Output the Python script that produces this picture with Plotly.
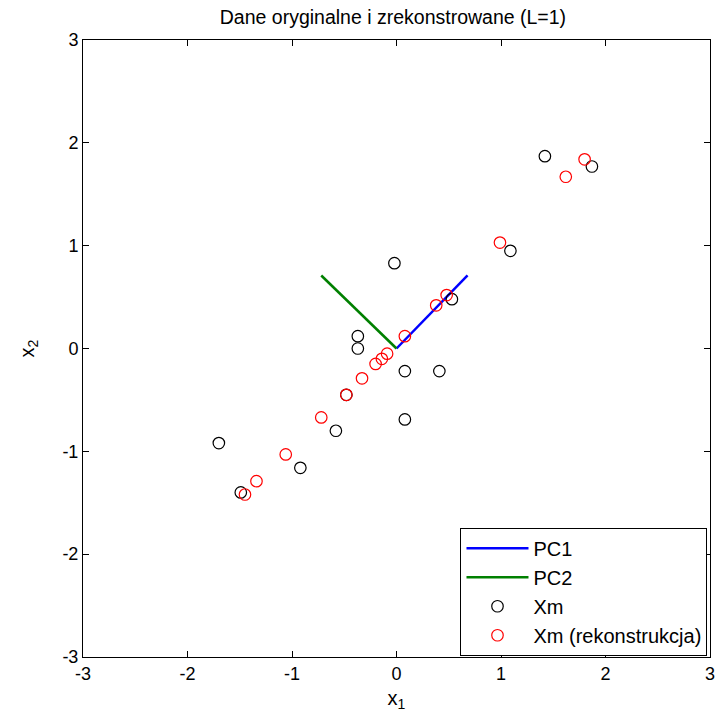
import plotly.graph_objects as go

# Original (centered) data
xm_x1 = [1.42, 1.87, 1.09, -0.02, 0.53, -0.37, -0.37, 0.08, 0.41, -0.48, 0.08, -0.58, -1.70, -0.92, -1.49]
xm_x2 = [1.87, 1.77, 0.95, 0.83, 0.48, 0.12, 0.00, -0.22, -0.22, -0.45, -0.69, -0.80, -0.92, -1.16, -1.40]

# Reconstruction (L=1)
rec_x1 = [1.80, 1.62, 0.99, 0.48, 0.38, 0.08, -0.09, -0.14, -0.20, -0.33, -0.48, -0.72, -1.06, -1.34, -1.45]
rec_x2 = [1.84, 1.67, 1.03, 0.52, 0.42, 0.12, -0.05, -0.10, -0.15, -0.29, -0.45, -0.67, -1.03, -1.29, -1.42]

# Principal component vectors
pc1_x = [0, 0.68]
pc1_y = [0, 0.71]
pc2_x = [0, -0.72]
pc2_y = [0, 0.71]

tick_vals = [-3, -2, -1, 0, 1, 2, 3]
tick_text = ["-3", "-2", "-1", "0", "1", "2", "3"]

FONT = "Liberation Sans, Arial, sans-serif"

fig = go.Figure()
fig.add_trace(go.Scatter(x=pc1_x, y=pc1_y, mode="lines", name="PC1",
                         line=dict(color="#0000ff", width=2.5)))
fig.add_trace(go.Scatter(x=pc2_x, y=pc2_y, mode="lines", name="PC2",
                         line=dict(color="#008000", width=2.5)))
fig.add_trace(go.Scatter(x=xm_x1, y=xm_x2, mode="markers", name="Xm",
                         marker=dict(symbol="circle-open", size=11.5, color="black",
                                     line=dict(width=1.2, color="black"))))
fig.add_trace(go.Scatter(x=rec_x1, y=rec_x2, mode="markers", name="Xm (rekonstrukcja)",
                         marker=dict(symbol="circle-open", size=11.5, color="red",
                                     line=dict(width=1.2, color="red"))))

axis_common = dict(range=[-3, 3], tickvals=tick_vals, ticktext=tick_text,
                   ticks="inside", ticklen=6,
                   tickcolor="black", showline=True, linecolor="black", linewidth=1,
                   mirror="ticks", showgrid=False, zeroline=False, automargin=False,
                   tickfont=dict(size=18, color="black", family=FONT))

fig.update_layout(
    width=721, height=714,
    margin=dict(l=83, r=11, t=40, b=57),
    paper_bgcolor="white", plot_bgcolor="white",
    font=dict(family=FONT, color="black"),
    title=dict(text="Dane oryginalne i zrekonstrowane (L=1)", x=0.545, xanchor="center",
               y=0.976, yanchor="middle", font=dict(size=19.5, family=FONT, color="black")),
    xaxis=dict(**axis_common, title=dict(text="x<sub>1</sub>", font=dict(size=20), standoff=8)),
    yaxis=dict(**axis_common, title=dict(text="x<sub>2</sub>", font=dict(size=20), standoff=22)),
    legend=dict(x=0.996, xanchor="right", y=0.002, yanchor="bottom",
                bgcolor="white", bordercolor="black", borderwidth=1,
                font=dict(size=20, family=FONT, color="black"),
                tracegroupgap=0, itemwidth=62),
    showlegend=True,
)

fig.write_html("out.html", config={"displayModeBar": False},
               post_script="document.body.style.margin='0';document.body.style.padding='0';")
